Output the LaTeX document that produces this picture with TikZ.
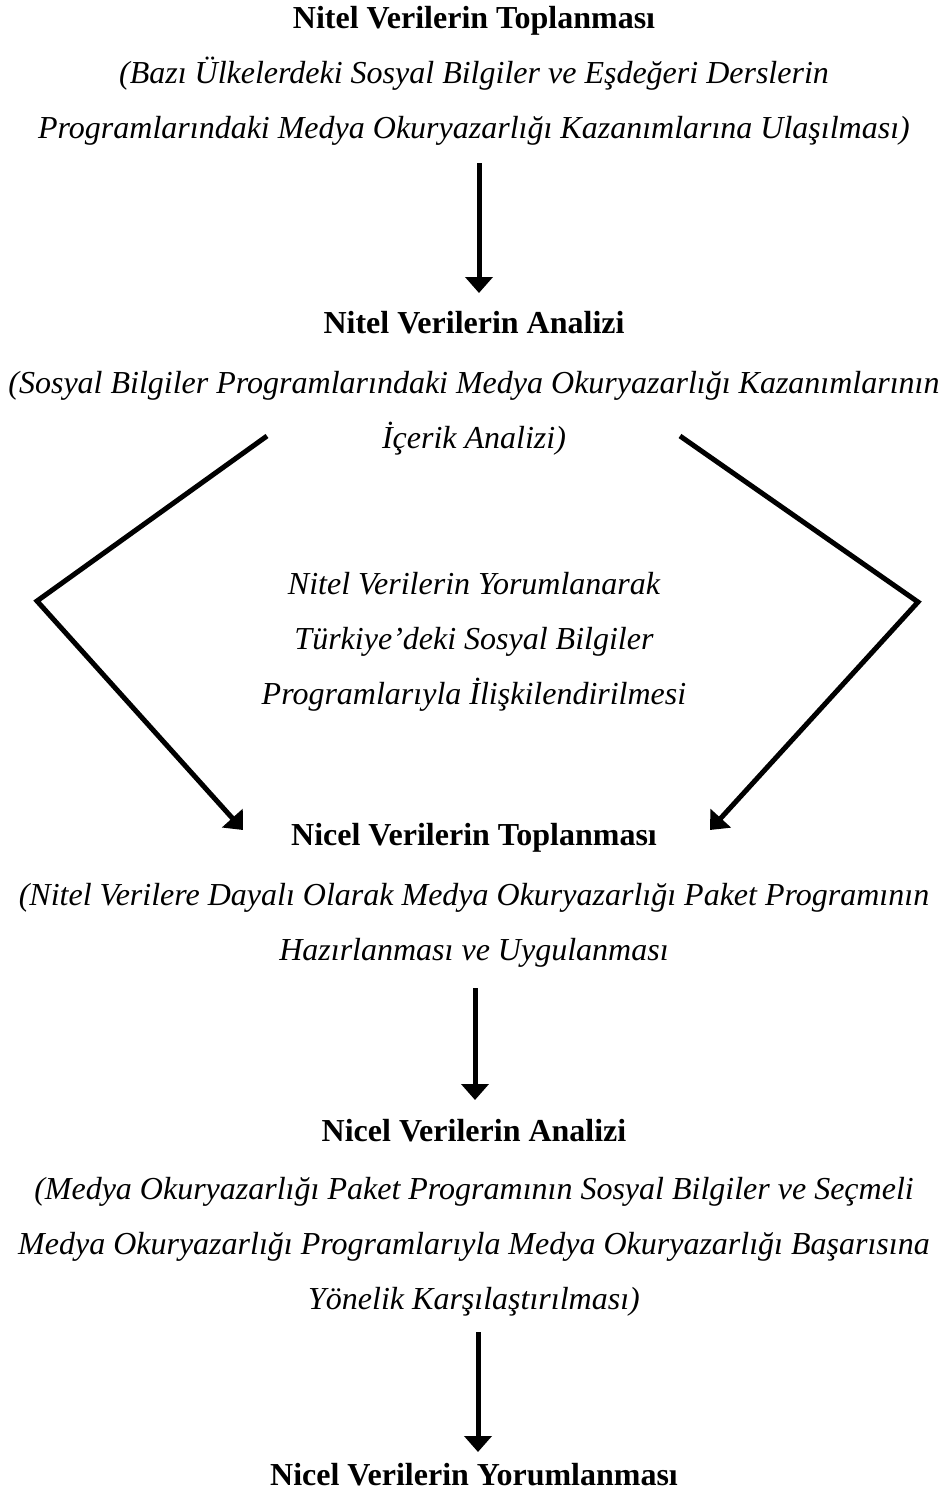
\documentclass[tikz,border=0pt]{standalone}
\usepackage{fontspec}
\setmainfont{Liberation Serif}
\usetikzlibrary{arrows.meta}
\begin{document}
\begin{tikzpicture}[x=0.5pt,y=-0.5pt,line join=miter,>={Triangle[width=13.5pt,length=8pt]},
  ttl/.style={font=\bfseries\fontsize{16}{27.5}\selectfont,anchor=base,inner sep=0pt},
  sub/.style={font=\itshape\fontsize{16}{27.5}\selectfont,align=center,anchor=base,inner sep=0pt},
  flow/.style={line width=2.5pt,->}]
  \useasboundingbox (0,0) rectangle (947,1499);
  % text blocks (base = last line)
  \node[ttl] (ttla) at (474,28) {Nitel Verilerin Toplanması};
  \node[sub] (suba) at (474,138) {(Bazı Ülkelerdeki Sosyal Bilgiler ve Eşdeğeri Derslerin\\Programlarındaki Medya Okuryazarlığı Kazanımlarına Ulaşılması)};
  \node[ttl] (ttlb) at (474,333) {Nitel Verilerin Analizi};
  \node[sub] (subb) at (474,448) {(Sosyal Bilgiler Programlarındaki Medya Okuryazarlığı Kazanımlarının\\İçerik Analizi)};
  \node[sub] (mid) at (474,704) {Nitel Verilerin Yorumlanarak\\Türkiye’deki Sosyal Bilgiler\\Programlarıyla İlişkilendirilmesi};
  \node[ttl] (ttlc) at (474,845) {Nicel Verilerin Toplanması};
  \node[sub] (subc) at (474,960) {(Nitel Verilere Dayalı Olarak Medya Okuryazarlığı Paket Programının\\Hazırlanması ve Uygulanması};
  \node[ttl] (ttld) at (474,1141) {Nicel Verilerin Analizi};
  \node[sub] (subd) at (474,1309) {(Medya Okuryazarlığı Paket Programının Sosyal Bilgiler ve Seçmeli\\Medya Okuryazarlığı Programlarıyla Medya Okuryazarlığı Başarısına\\Yönelik Karşılaştırılması)};
  \node[ttl] (ttle) at (474,1485) {Nicel Verilerin Yorumlanması};
  % arrow ends
  \coordinate (a1s) at (479,163);  \coordinate (a1e) at (479,293);
  \coordinate (lts) at (267,436);  \coordinate (ltc) at (37,601);  \coordinate (lte) at (243,830);
  \coordinate (rts) at (680,436);  \coordinate (rtc) at (918,602); \coordinate (rte) at (710,830);
  \coordinate (a2s) at (475,988);  \coordinate (a2e) at (475,1100);
  \coordinate (a3s) at (478,1332); \coordinate (a3e) at (478,1452);
  % connectors
  \draw[flow] (a1s) -- (a1e);
  \draw[flow] (lts) -- (ltc) -- (lte);
  \draw[flow] (rts) -- (rtc) -- (rte);
  \draw[flow] (a2s) -- (a2e);
  \draw[flow] (a3s) -- (a3e);
\end{tikzpicture}
\end{document}
